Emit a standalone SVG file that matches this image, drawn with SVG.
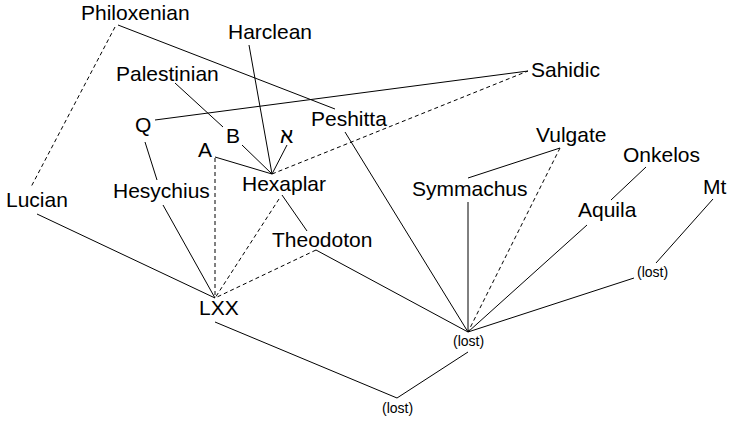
<svg xmlns="http://www.w3.org/2000/svg" width="740" height="430" viewBox="0 0 740 430">
<style>
.t{font-family:"Liberation Sans","DejaVu Sans",Arial,sans-serif;font-size:21px;fill:#000}
.s{font-family:"Liberation Sans",Arial,sans-serif;font-size:14px;fill:#000}
.c line{stroke:#000;stroke-width:1;fill:none}
.c line.d{stroke-dasharray:4,3}
</style>
<rect width="740" height="430" fill="#fff"/>
<g id="connectors" class="c">
<line x1="118" y1="25" x2="335" y2="109"/>
<line x1="155" y1="120" x2="528" y2="71"/>
<line x1="175" y1="83" x2="223" y2="127"/>
<line x1="249" y1="45" x2="272" y2="174"/>
<line x1="242" y1="145" x2="272" y2="174"/>
<line x1="287" y1="145" x2="272" y2="174"/>
<line x1="215" y1="157" x2="272" y2="174"/>
<line x1="145" y1="142" x2="157" y2="180"/>
<line x1="163" y1="205" x2="215" y2="298"/>
<line x1="37" y1="214" x2="215" y2="298"/>
<line x1="282" y1="195" x2="307" y2="231"/>
<line x1="316" y1="250" x2="468" y2="332"/>
<line x1="345" y1="132" x2="468" y2="332"/>
<line x1="468" y1="202" x2="468" y2="332"/>
<line x1="468" y1="178" x2="560" y2="148"/>
<line x1="587" y1="225" x2="468" y2="332"/>
<line x1="646" y1="167" x2="611" y2="200"/>
<line x1="713" y1="199" x2="656" y2="263"/>
<line x1="634" y1="278" x2="468" y2="332"/>
<line x1="215" y1="322" x2="397" y2="398"/>
<line x1="468" y1="352" x2="397" y2="398"/>
<line class="d" x1="115" y1="27" x2="31" y2="187"/>
<line class="d" x1="215" y1="158" x2="215" y2="298"/>
<line class="d" x1="272" y1="174" x2="528" y2="71"/>
<line class="d" x1="279" y1="199" x2="215" y2="298"/>
<line class="d" x1="316" y1="250" x2="215" y2="298"/>
<line class="d" x1="560" y1="148" x2="468" y2="332"/>
</g>
<g id="philoxenian"><text class="t" x="81" y="20">Philoxenian</text></g>
<g id="harclean"><text class="t" x="228" y="39">Harclean</text></g>
<g id="palestinian"><text class="t" x="116" y="81">Palestinian</text></g>
<g id="sahidic"><text class="t" x="531" y="77">Sahidic</text></g>
<g id="q"><text class="t" x="135" y="132">Q</text></g>
<g id="b"><text class="t" x="226" y="143">B</text></g>
<g id="a"><text class="t" x="198" y="157">A</text></g>
<g id="aleph"><text class="t" x="280" y="143">א</text></g>
<g id="peshitta"><text class="t" x="311" y="126">Peshitta</text></g>
<g id="lucian"><text class="t" x="6" y="207">Lucian</text></g>
<g id="hesychius"><text class="t" x="113" y="198">Hesychius</text></g>
<g id="hexaplar"><text class="t" x="242" y="191">Hexaplar</text></g>
<g id="symmachus"><text class="t" x="412" y="196">Symmachus</text></g>
<g id="vulgate"><text class="t" x="536" y="142">Vulgate</text></g>
<g id="onkelos"><text class="t" x="623" y="162">Onkelos</text></g>
<g id="mt"><text class="t" x="703" y="194">Mt</text></g>
<g id="aquila"><text class="t" x="578" y="217">Aquila</text></g>
<g id="theodoton"><text class="t" x="272" y="247">Theodoton</text></g>
<g id="lxx"><text class="t" x="199" y="315">LXX</text></g>
<g id="lost-mid"><text class="s" x="453" y="346">(lost)</text></g>
<g id="lost-right"><text class="s" x="637" y="277">(lost)</text></g>
<g id="lost-bottom"><text class="s" x="382" y="413">(lost)</text></g>
</svg>
